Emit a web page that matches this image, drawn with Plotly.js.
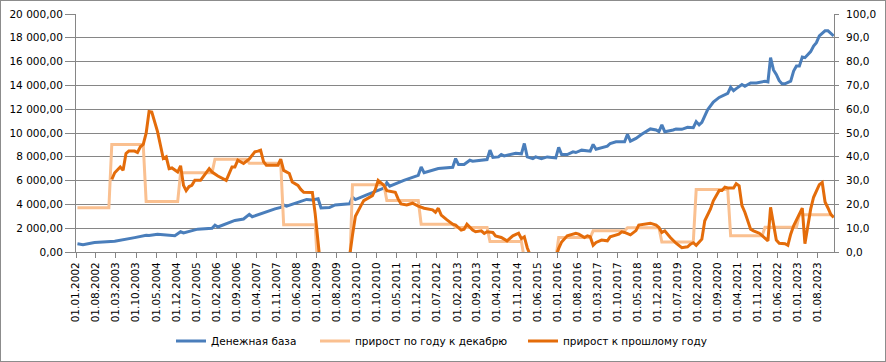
<!DOCTYPE html>
<html><head><meta charset="utf-8">
<script src="https://cdn.plot.ly/plotly-3.0.1.min.js"></script>
<style>
html,body{margin:0;padding:0;background:#fff;}
#chart{width:886px;height:362px;}
#frame{position:absolute;left:0;top:0;width:884px;height:360px;border:1px solid #8c8c8c;pointer-events:none;}
</style>
</head><body>
<div id="chart"></div><div id="frame"></div>
<script>
// Денежная база (left axis)
const baseDates = ['2002-01','2002-03','2002-07','2003-02','2003-09','2004-01','2004-02','2004-05','2004-11','2005-01','2005-02','2005-07','2005-12','2006-01','2006-02','2006-06','2006-08','2006-11','2007-01','2007-02','2007-07','2007-10','2007-12','2008-01','2008-02','2008-06','2008-09','2008-11','2009-01','2009-02','2009-05','2009-07','2009-11','2009-12','2010-01','2010-02','2010-06','2010-10','2010-12','2011-01','2011-02','2011-07','2011-11','2011-12','2012-01','2012-02','2012-07','2012-12','2013-01','2013-02','2013-04','2013-06','2013-07','2013-12','2014-01','2014-02','2014-04','2014-05','2014-06','2014-10','2014-12','2015-01','2015-02','2015-04','2015-05','2015-07','2015-09','2015-12','2016-01','2016-02','2016-04','2016-06','2016-07','2016-09','2016-12','2017-01','2017-02','2017-04','2017-06','2017-07','2017-09','2017-12','2018-01','2018-02','2018-04','2018-06','2018-07','2018-09','2018-11','2018-12','2019-01','2019-02','2019-05','2019-06','2019-08','2019-10','2019-12','2020-01','2020-02','2020-03','2020-05','2020-07','2020-09','2020-11','2020-12','2021-01','2021-02','2021-03','2021-05','2021-06','2021-08','2021-10','2022-01','2022-02','2022-03','2022-04','2022-05','2022-06','2022-07','2022-08','2022-10','2022-11','2022-12','2023-01','2023-02','2023-03','2023-05','2023-06','2023-07','2023-08','2023-10','2023-11','2024-01'];
const baseValues = [700,620,790,900,1210,1410,1380,1500,1360,1700,1600,1920,2000,2260,2100,2480,2650,2770,3160,2960,3400,3620,3750,3950,3850,4180,4420,4380,4480,3700,3730,3950,4000,4050,4600,4400,4800,5170,5370,5820,5530,6020,6360,6440,7150,6670,7010,7120,7850,7350,7350,7710,7630,7770,8560,7940,7990,8190,8080,8300,8250,9120,7990,7850,7990,7850,7990,7910,8790,8190,8190,8420,8360,8560,8470,9040,8640,8760,8900,9120,9260,9260,9890,9320,9550,9890,10060,10340,10250,10110,10680,10110,10250,10340,10310,10480,10450,10960,10680,10900,11950,12600,12990,13220,13330,13840,13560,13730,14070,13930,14210,14210,14350,14300,16330,15300,14920,14400,14130,14130,14350,15200,15620,15620,16380,16330,16840,17310,17590,18160,18590,18590,18160];

// прирост по году к декабрю (right axis), one value per year
const stepYears = [2002,2003,2004,2005,2006,2007,2008,2009,2010,2011,2012,2013,2014,2015,2016,2017,2018,2019,2020,2021,2022,2023];
const stepValues = [18.6,45.2,21.2,33.3,39.0,37.3,11.4,-10.0,28.3,21.6,11.7,10.3,4.4,-3.0,6.1,8.9,10.2,4.2,26.3,6.8,10.4,15.6];

// прирост к прошлому году (right axis)
const prevDates = ['2003-01','2003-02','2003-04','2003-05','2003-06','2003-07','2003-09','2003-10','2003-11','2003-12','2004-01','2004-02','2004-03','2004-05','2004-07','2004-08','2004-09','2004-10','2004-12','2005-01','2005-02','2005-03','2005-04','2005-05','2005-06','2005-08','2005-11','2005-12','2006-02','2006-05','2006-07','2006-08','2006-09','2006-11','2007-01','2007-03','2007-04','2007-05','2007-06','2007-07','2007-11','2007-12','2008-01','2008-03','2008-04','2008-06','2008-07','2008-08','2008-11','2008-12','2009-01','2009-02','2009-04','2009-07','2009-10','2009-12','2010-01','2010-02','2010-04','2010-05','2010-08','2010-09','2010-10','2010-12','2011-01','2011-04','2011-05','2011-06','2011-08','2011-10','2011-12','2012-02','2012-05','2012-06','2012-07','2012-08','2012-10','2012-12','2013-01','2013-03','2013-04','2013-05','2013-07','2013-08','2013-10','2013-11','2013-12','2014-02','2014-03','2014-05','2014-07','2014-09','2014-11','2014-12','2015-01','2015-02','2015-03','2015-06','2015-09','2015-12','2016-01','2016-02','2016-04','2016-07','2016-08','2016-10','2016-11','2016-12','2017-01','2017-02','2017-04','2017-06','2017-07','2017-10','2017-11','2017-12','2018-02','2018-04','2018-05','2018-08','2018-09','2018-11','2018-12','2019-01','2019-02','2019-04','2019-06','2019-08','2019-10','2019-11','2019-12','2020-01','2020-03','2020-04','2020-06','2020-07','2020-08','2020-09','2020-10','2020-11','2020-12','2021-01','2021-02','2021-03','2021-04','2021-05','2021-06','2021-08','2021-09','2021-11','2022-01','2022-02','2022-03','2022-04','2022-05','2022-06','2022-08','2022-09','2022-10','2022-11','2022-12','2023-01','2023-02','2023-03','2023-04','2023-05','2023-06','2023-07','2023-08','2023-09','2023-10','2023-11','2023-12','2024-01'];
const prevValues = [30.5,33.3,35.7,34.3,41.4,42.4,42.4,41.8,44.2,45.2,49.9,59.0,58.8,50.6,39.3,40.0,35.0,35.3,33.6,36.2,28.0,25.8,27.5,28.0,30.1,30.1,35.0,33.6,31.9,30.1,35.7,35.7,38.6,37.2,39.1,42.1,42.4,42.8,38.0,36.5,36.5,39.0,34.3,33.0,29.4,28.0,26.3,25.1,25.0,16.0,4.0,-8.0,-14.0,-12.0,-6.0,-2.0,7.0,15.0,19.5,21.6,23.7,26.3,30.1,28.0,25.8,25.1,22.3,20.2,19.8,20.5,19.3,18.4,17.7,16.7,18.4,15.5,13.5,11.7,11.3,9.2,9.6,11.7,9.2,8.5,8.9,7.8,8.5,8.2,6.8,6.1,4.7,6.8,7.9,5.6,6.4,1.8,-1.0,-6.0,-4.0,-2.0,1.5,4.2,6.8,7.9,7.5,6.1,6.8,6.4,2.8,4.0,5.0,4.7,6.4,7.5,8.5,8.2,7.2,9.0,11.3,11.7,12.1,11.3,10.3,8.2,8.9,6.1,3.7,1.8,2.2,3.3,3.9,2.8,5.4,13.1,18.1,21.5,23.7,25.8,25.8,27.2,26.9,26.9,26.9,28.7,27.8,19.5,16.7,9.6,8.9,7.9,5.6,4.7,18.8,12.4,5.0,3.7,3.5,2.8,7.5,11.0,13.2,15.5,18.4,3.5,11.0,18.0,23.0,25.5,28.3,29.2,21.0,18.5,15.8,14.5];

const tickLabels = ['01.01.2002','01.08.2002','01.03.2003','01.10.2003','01.05.2004','01.12.2004','01.07.2005','01.02.2006','01.09.2006','01.04.2007','01.11.2007','01.06.2008','01.01.2009','01.08.2009','01.03.2010','01.10.2010','01.05.2011','01.12.2011','01.07.2012','01.02.2013','01.09.2013','01.04.2014','01.11.2014','01.06.2015','01.01.2016','01.08.2016','01.03.2017','01.10.2017','01.05.2018','01.12.2018','01.07.2019','01.02.2020','01.09.2020','01.04.2021','01.11.2021','01.06.2022','01.01.2023','01.08.2023'];

const mid = s => s + '-16';
const tickVals = tickLabels.map(t => { const p = t.split('.'); return p[2] + '-' + p[1] + '-' + p[0]; });

const stepX = [], stepY = [];
stepYears.forEach((y, i) => {
  stepX.push(y + '-01-16'); stepY.push(stepValues[i]);
  stepX.push(y + '-12-16'); stepY.push(stepValues[i]);
});

const traces = [
  {x: baseDates.map(mid), y: baseValues, type: 'scatter', mode: 'lines', name: 'Денежная база',
   line: {color: '#4A7EBB', width: 3}, yaxis: 'y', legend: 'legend'},
  {x: stepX, y: stepY, type: 'scatter', mode: 'lines', name: 'прирост по году к декабрю',
   line: {color: '#FAC090', width: 3}, yaxis: 'y2', legend: 'legend2'},
  {x: prevDates.map(mid), y: prevValues, type: 'scatter', mode: 'lines', name: 'прирост к прошлому году',
   line: {color: '#E46C0A', width: 3}, yaxis: 'y2', legend: 'legend3'}
];

const gray = '#868686';
const legendBase = {orientation: 'h', xref: 'container', yref: 'container', xanchor: 'left',
  y: 0.058, yanchor: 'middle', font: {size: 10.5}, bgcolor: 'rgba(0,0,0,0)'};
const layout = {
  width: 886, height: 362,
  margin: {l: 76, r: 52, t: 14, b: 110},
  paper_bgcolor: '#fff', plot_bgcolor: '#fff',
  font: {family: 'DejaVu Sans', size: 10.5, color: '#000'},
  separators: ', ',
  showlegend: true,
  legend: Object.assign({}, legendBase, {x: 171 / 886}),
  legend2: Object.assign({}, legendBase, {x: 315 / 886}),
  legend3: Object.assign({}, legendBase, {x: 523 / 886}),
  xaxis: {type: 'date', range: ['2001-12-31 18:00', '2024-01-19'], tickmode: 'array',
          tickvals: tickVals, ticktext: tickLabels, tickangle: -90,
          ticks: 'outside', ticklen: 5, tickcolor: gray, showgrid: false,
          showline: true, linecolor: gray, zeroline: false},
  yaxis: {range: [0, 20000], dtick: 2000, tick0: 0, tickformat: ',.2f',
          gridcolor: gray, gridwidth: 1, showline: true, linecolor: gray,
          ticks: 'outside', ticklen: 10, tickcolor: gray, zeroline: false},
  yaxis2: {overlaying: 'y', side: 'right', range: [0, 100], dtick: 10, tick0: 0, tickformat: '.1f',
           showgrid: false, showline: true, linecolor: gray, ticks: 'outside', ticklen: 4,
           tickcolor: gray, zeroline: false, ticklabelstandoff: 5}
};

Plotly.newPlot('chart', traces, layout, {staticPlot: true});
</script>
</body></html>
